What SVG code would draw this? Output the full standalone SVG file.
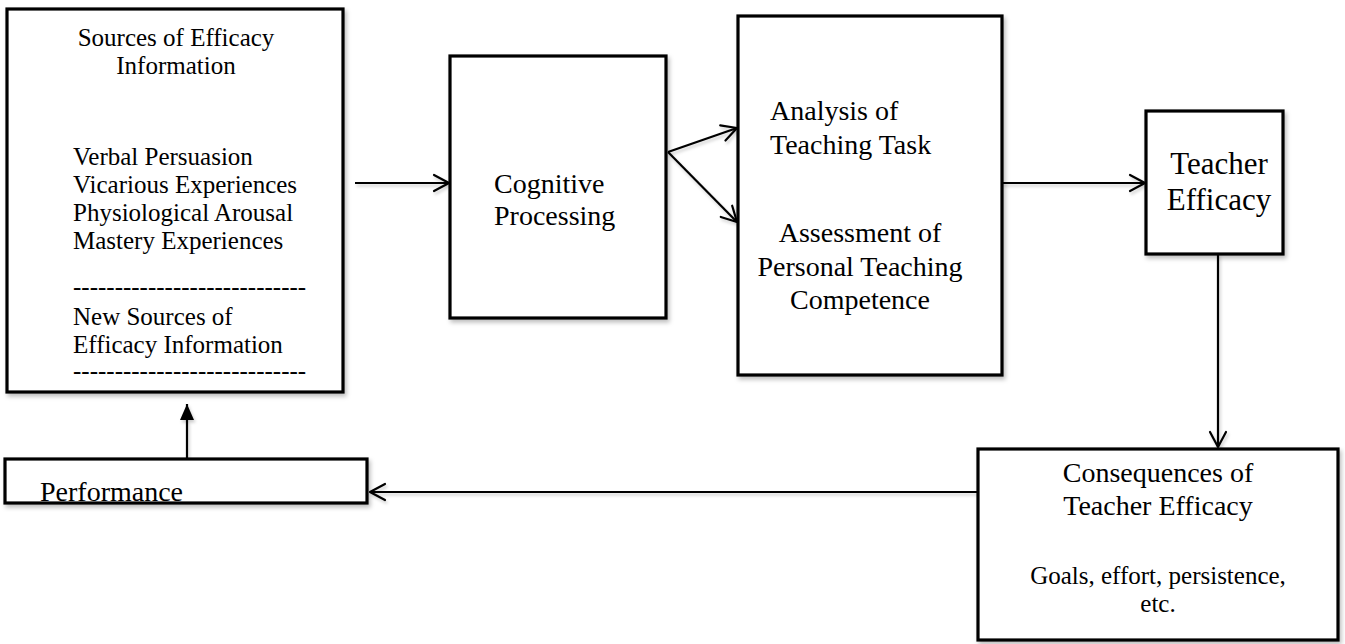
<svg xmlns="http://www.w3.org/2000/svg" width="1345" height="644" viewBox="0 0 1345 644">
  <style>
    .box { fill: #ffffff; stroke: #000000; stroke-width: 3.2; filter: url(#shadow); }
    .conn { fill: none; stroke: #000000; stroke-width: 2.2; }
    .head { fill: none; stroke: #000000; stroke-width: 2.2; stroke-linecap: round; stroke-linejoin: round; }
    text { font-family: "Liberation Serif", "Times New Roman", serif; fill: #000000; }
    .t25 { font-size: 25px; }
    .t28 { font-size: 28px; }
    .t31 { font-size: 31px; }
    .mid { text-anchor: middle; }
  </style>
  <defs>
    <filter id="shadow" x="-10%" y="-10%" width="130%" height="130%">
      <feDropShadow dx="2" dy="3" stdDeviation="2" flood-color="#000000" flood-opacity="0.25"/>
    </filter>
    <!-- user-space region so zero-height/zero-width lines keep their shadow -->
    <filter id="lineShadow" filterUnits="userSpaceOnUse" x="0" y="0" width="1345" height="644">
      <feDropShadow dx="1.5" dy="2.5" stdDeviation="1.5" flood-color="#000000" flood-opacity="0.2"/>
    </filter>
    <marker id="open" viewBox="0 0 20 20" refX="17" refY="10" markerWidth="20" markerHeight="20" markerUnits="userSpaceOnUse" orient="auto">
      <path class="head" d="M2,2 L17,10 L2,18"/>
    </marker>
    <marker id="solid" viewBox="0 0 20 20" refX="18" refY="10" markerWidth="20" markerHeight="20" markerUnits="userSpaceOnUse" orient="auto">
      <path d="M2,3 L18,10 L2,17 Z" fill="#000000"/>
    </marker>
  </defs>

  <!-- connectors -->
  <g id="connectors" filter="url(#lineShadow)">
    <line class="conn" x1="355" y1="183" x2="449" y2="183" marker-end="url(#open)"/>
    <line class="conn" x1="668" y1="152" x2="737" y2="128" marker-end="url(#open)"/>
    <line class="conn" x1="668" y1="152" x2="737" y2="222" marker-end="url(#open)"/>
    <line class="conn" x1="738" y1="183" x2="1145" y2="183" marker-end="url(#open)"/>
    <line class="conn" x1="1218" y1="254" x2="1218" y2="447" marker-end="url(#open)"/>
    <line class="conn" x1="978" y1="492" x2="370" y2="492" marker-end="url(#open)"/>
    <line class="conn" x1="187" y1="459" x2="187" y2="404" marker-end="url(#solid)"/>
  </g>

  <!-- sources of efficacy information -->
  <g id="sources">
    <rect class="box" x="7" y="9" width="336" height="383"/>
    <text class="t25 mid" x="176" y="46">Sources of Efficacy</text>
    <text class="t25 mid" x="176" y="74">Information</text>
    <text class="t25" x="73" y="165">Verbal Persuasion</text>
    <text class="t25" x="73" y="193">Vicarious Experiences</text>
    <text class="t25" x="73" y="221">Physiological Arousal</text>
    <text class="t25" x="73" y="249">Mastery Experiences</text>
    <text class="t25" x="73" y="295">----------------------------</text>
    <text class="t25" x="73" y="325">New Sources of</text>
    <text class="t25" x="73" y="353">Efficacy Information</text>
    <text class="t25" x="73" y="379">----------------------------</text>
  </g>

  <!-- cognitive processing -->
  <g id="cognitive">
    <rect class="box" x="450" y="56" width="216" height="262"/>
    <text class="t28" x="494" y="193">Cognitive</text>
    <text class="t28" x="494" y="225">Processing</text>
  </g>

  <!-- analysis / assessment -->
  <g id="analysis">
    <rect class="box" x="738" y="16" width="264" height="359"/>
    <text class="t28" x="770" y="120">Analysis of</text>
    <text class="t28" x="770" y="154">Teaching Task</text>
  </g>
  <g id="assessment">
    <text class="t28 mid" x="860" y="242">Assessment of</text>
    <text class="t28 mid" x="860" y="276">Personal Teaching</text>
    <text class="t28 mid" x="860" y="309">Competence</text>
  </g>

  <!-- teacher efficacy -->
  <g id="teacher-efficacy">
    <rect class="box" x="1146" y="111" width="137" height="143"/>
    <text class="t31 mid" x="1219" y="174">Teacher</text>
    <text class="t31 mid" x="1219" y="210">Efficacy</text>
  </g>

  <!-- consequences -->
  <g id="consequences">
    <rect class="box" x="978" y="449" width="360" height="191"/>
    <text class="t28 mid" x="1158" y="482">Consequences of</text>
    <text class="t28 mid" x="1158" y="515">Teacher Efficacy</text>
    <text class="t25 mid" x="1158" y="584">Goals, effort, persistence,</text>
    <text class="t25 mid" x="1158" y="612">etc.</text>
  </g>

  <!-- performance -->
  <g id="performance">
    <rect class="box" x="5" y="459" width="362" height="44"/>
    <text class="t28" x="40" y="501">Performance</text>
  </g>
</svg>
